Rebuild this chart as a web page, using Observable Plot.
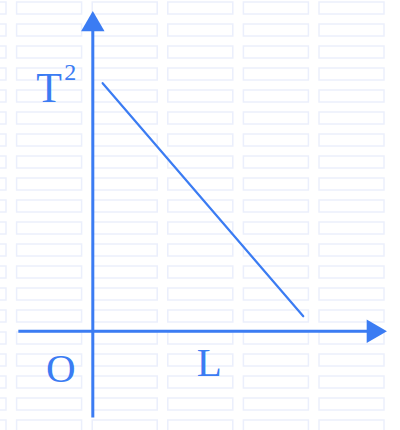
<!DOCTYPE html>
<html>
<head>
<meta charset="utf-8">
<script src="https://cdn.jsdelivr.net/npm/d3@7"></script>
<script src="https://cdn.jsdelivr.net/npm/@observablehq/plot@0.6"></script>
<style>
  html, body { margin: 0; padding: 0; background: #ffffff; }
  #wrap { position: relative; width: 400px; height: 430px; overflow: hidden; }
  #wm, #chart { position: absolute; left: 0; top: 0; }
</style>
</head>
<body>
<div id="wrap"><div id="wm"></div><div id="chart"></div></div>
<script>
// Line T^2 vs L (abstract units, origin O at 0,0)
const lineL = [0.32, 6.84];
const lineT2 = [8.25, 0.5];

// Axis extents
const xAxisFrom = [-2.42];
const xAxisTo = [9.35];
const yAxisFrom = [-2.87];
const yAxisTo = [10.0];

// Arrow heads (centre of filled triangle)
const xArrowAt = [9.12];
const yArrowAt = [10.2];

// Labels
const labelText = ["T", "2", "O", "L"];
const labelX = [-1.84, -0.93, -1.52, 3.38];
const labelY = [7.61, 8.36, -1.70, -1.50];
const labelSize = [42, 24, 41, 41];

const blue = "#3b7cf3";

// faint watermark frames (decoration only)
const wm = d3.select("#wm").append("svg").attr("width", 400).attr("height", 430);
for (let r = 0; r < 20; r++) {
  for (let c = 0; c < 6; c++) {
    const x0 = 17 + c * 75.6 - 76, y0 = 2 + r * 22;
    wm.append("rect").attr("x", x0).attr("y", y0).attr("width", 65).attr("height", 12)
      .attr("fill", "none").attr("stroke", "#ebeffc").attr("stroke-width", 1.5);
  }
}

const labels = labelText.map((t, i) => ({t, x: labelX[i], y: labelY[i], s: labelSize[i]}));

const chart = Plot.plot({
  width: 400,
  height: 430,
  margin: 0,
  style: {background: "transparent"},
  x: {domain: [-3, 10], axis: null},
  y: {domain: [-3.3, 11], axis: null},
  marks: [
    Plot.line(lineL.map((l, i) => ({l, t: lineT2[i]})), {x: "l", y: "t", stroke: blue, strokeWidth: 2.2}),
    Plot.link([0], {x1: () => xAxisFrom[0], x2: () => xAxisTo[0], y1: () => 0, y2: () => 0, stroke: blue, strokeWidth: 3}),
    Plot.link([0], {x1: () => 0, x2: () => 0, y1: () => yAxisFrom[0], y2: () => yAxisTo[0], stroke: blue, strokeWidth: 3}),
    Plot.dot(xArrowAt, {x: d => d, y: () => 0, symbol: "triangle", r: 8.7, rotate: 90, fill: blue, stroke: "none"}),
    Plot.dot(yArrowAt, {x: () => 0, y: d => d, symbol: "triangle", r: 8.7, fill: blue, stroke: "none"}),
    ...labels.map(d => Plot.text([d], {x: "x", y: "y", text: "t", fontSize: d.s, textAnchor: "start", lineAnchor: "bottom",
      fontFamily: "Liberation Serif, Times New Roman, serif", fill: blue}))
  ]
});
document.getElementById("chart").append(chart);
</script>
</body>
</html>
